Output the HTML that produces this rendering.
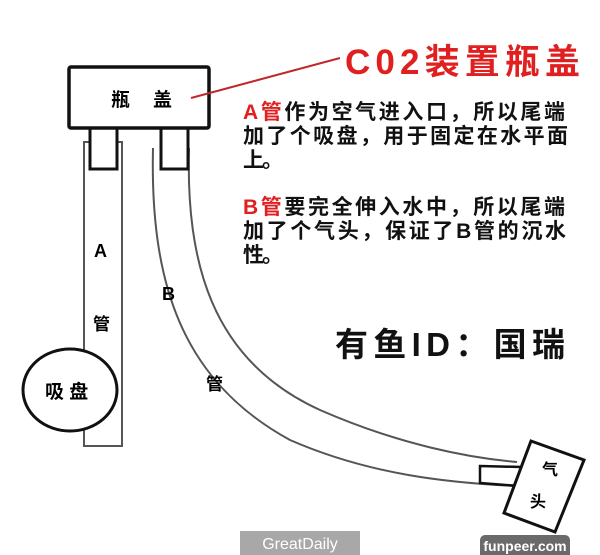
<!DOCTYPE html>
<html><head><meta charset="utf-8"><style>
body{margin:0;background:#fff;}
svg{display:block}
</style></head><body>
<svg width="600" height="555" xmlns="http://www.w3.org/2000/svg" font-family="'Liberation Sans','Noto Sans CJK SC',sans-serif" font-weight="bold">
<rect width="600" height="555" fill="#fff"/>
<rect x="84" y="142" width="38" height="304" fill="#fff" stroke="#555" stroke-width="2"/>
<path d="M153,148 C150,280 180,380 290,440 C370,475 450,483 517,486 L517,462 C470,458 400,445 320,410 C210,360 186,260 189,148 Z" fill="#fff" stroke="none"/>
<path d="M153,148 C150,280 180,380 290,440 C370,475 450,483 517,486" fill="none" stroke="#555" stroke-width="2"/>
<path d="M189,148 C186,260 210,360 320,410 C400,445 470,458 517,462" fill="none" stroke="#555" stroke-width="2"/>
<rect x="90" y="126" width="27" height="43" fill="#fff" stroke="#111" stroke-width="3"/>
<rect x="161" y="126" width="27" height="43" fill="#fff" stroke="#111" stroke-width="3"/>
<rect x="69" y="67" width="140" height="61" rx="2" fill="#fff" stroke="#111" stroke-width="3.5"/>
<text x="111" y="106" font-size="19">瓶</text>
<text x="153" y="106" font-size="19">盖</text>
<line x1="191" y1="98" x2="340" y2="58" stroke="#c0282c" stroke-width="2"/>
<ellipse cx="70" cy="390" rx="47" ry="41" fill="#fff" stroke="#111" stroke-width="3"/>
<text x="45" y="398" font-size="19">吸 盘</text>
<text x="94" y="257" font-size="18">A</text>
<text x="93" y="330" font-size="17">管</text>
<text x="162" y="300" font-size="18">B</text>
<text x="206" y="390" font-size="17">管</text>
<polygon points="480,466 521,467 519,486 480,483" fill="#fff" stroke="#111" stroke-width="2.5"/>
<polygon points="531,441 584,460 555,532 504,513" fill="#fff" stroke="#111" stroke-width="3"/>
<text x="542" y="475" font-size="16">气</text>
<text x="530" y="507" font-size="16">头</text>
<text x="345" y="74" font-size="35" fill="#e02020" textLength="235" lengthAdjust="spacing">C02装置瓶盖</text>
<g font-size="21" fill="#111">
<text x="243" y="119" textLength="322" lengthAdjust="spacing"><tspan fill="#e02020">A管</tspan>作为空气进入口，所以尾端</text>
<text x="243" y="143" textLength="325" lengthAdjust="spacing">加了个吸盘，用于固定在水平面</text>
<text x="243" y="167" textLength="40" lengthAdjust="spacing">上。</text>
<text x="243" y="214" textLength="322" lengthAdjust="spacing"><tspan fill="#e02020">B管</tspan>要完全伸入水中，所以尾端</text>
<text x="243" y="238" textLength="323" lengthAdjust="spacing">加了个气头，保证了B管的沉水</text>
<text x="243" y="262" textLength="40" lengthAdjust="spacing">性。</text>
</g>
<text x="335" y="356" font-size="33" fill="#111" textLength="230" lengthAdjust="spacing">有鱼ID：国瑞</text>
<rect x="240" y="531" width="120" height="24" fill="#a8a8a8"/>
<text x="300" y="549" font-size="16" font-weight="normal" fill="#fff" text-anchor="middle">GreatDaily</text>
<rect x="480" y="535" width="90" height="26" rx="5" fill="#6a6a6a"/>
<text x="525" y="551" font-size="14" fill="#fff" text-anchor="middle">funpeer.com</text>
</svg>
</body></html>
